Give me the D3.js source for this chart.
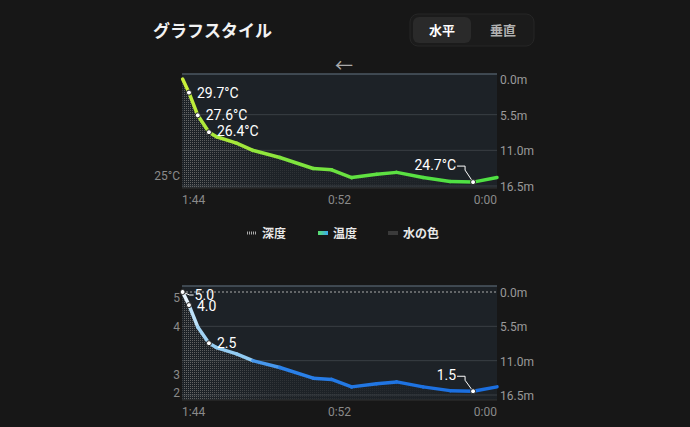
<!DOCTYPE html>
<html><head><meta charset="utf-8">
<script src="https://cdn.jsdelivr.net/npm/d3@7"></script>
<style>
body{margin:0;background:#171717;}
text{font-family:Roboto,"Noto Sans CJK JP",sans-serif;}
</style></head>
<body>
<svg id="c" width="690" height="427"></svg>
<script>
// dive profile, minutes from end of dive
const minutes = [103.8, 101.7, 98.8, 95.1, 92.6, 86.0, 80.6, 71.7, 60.7, 54.6, 48.0, 39.7, 33.1, 24.4, 15.5, 7.9, 0];
const depth   = [0.0, 2.1, 5.6, 8.2, 8.9, 9.9, 11.0, 12.1, 13.8, 14.0, 15.2, 14.7, 14.4, 15.2, 15.8, 15.9, 15.2];
const temp    = [30.2, 29.7, 27.6, 26.4, 26.2, 26.0, 25.8, 25.5, 25.3, 25.2, 25.0, 24.9, 24.9, 24.8, 24.7, 24.7, 24.7];
const vis     = [5.0, 4.0, 3.0, 2.5, 2.4, 2.35, 2.3, 2.0, 1.9, 1.8, 1.7, 1.7, 1.6, 1.6, 1.5, 1.5, 1.5];
const depthTicks = [0, 5.5, 11.0, 16.5];
const timeTicks = [104, 52, 0];
const timeLabels = ["1:44", "0:52", "0:00"];
const visTicks = [5, 4, 3, 2];

const svg = d3.select("#c");
const data = minutes.map((m, i) => ({m, d: depth[i], t: temp[i], v: vis[i]}));
const x = d3.scaleLinear().domain([104, 0]).range([182, 497]);

// header
svg.append("text").attr("x", 153).attr("y", 37).attr("fill", "#f2f2f2")
  .attr("font-size", 17).attr("font-weight", "bold").text("グラフスタイル");
svg.append("rect").attr("x", 410).attr("y", 14).attr("width", 124).attr("height", 32).attr("rx", 8)
  .attr("fill", "#1b1b1b").attr("stroke", "#262626");
svg.append("rect").attr("x", 413).attr("y", 17).attr("width", 58).attr("height", 26).attr("rx", 6).attr("fill", "#2a2a2a");
svg.append("text").attr("x", 442).attr("y", 35).attr("text-anchor", "middle").attr("fill", "#fff")
  .attr("font-size", 13).attr("font-weight", "bold").text("水平");
svg.append("text").attr("x", 503).attr("y", 35).attr("text-anchor", "middle").attr("fill", "#b0b0b0")
  .attr("font-size", 13).attr("font-weight", "bold").text("垂直");
svg.append("text").attr("x", 344).attr("y", 72).attr("text-anchor", "middle").attr("fill", "#aaa")
  .attr("font-size", 18).text("←");

const defs = svg.append("defs");
const pat = defs.append("pattern").attr("id", "hatch").attr("patternUnits", "userSpaceOnUse")
  .attr("width", 2).attr("height", 2);
pat.append("rect").attr("width", 1).attr("height", 1).attr("fill", "#6a6a6a");
const fade = defs.append("linearGradient").attr("id", "fade");
fade.append("stop").attr("offset", "0").attr("stop-color", "#fff").attr("stop-opacity", 1);
fade.append("stop").attr("offset", "0.3").attr("stop-color", "#fff").attr("stop-opacity", 0.25);
fade.append("stop").attr("offset", "1").attr("stop-color", "#fff").attr("stop-opacity", 0);
defs.append("mask").attr("id", "fm").append("rect").attr("x", 182).attr("y", 0)
  .attr("width", 315).attr("height", 427).attr("fill", "url(#fade)");

function chart(cfg) {
  const y = d3.scaleLinear().domain([0, 16.5]).range([cfg.y0, cfg.y1]);
  const g = svg.append("g");
  g.append("rect").attr("x", 182).attr("y", cfg.top).attr("width", 315).attr("height", cfg.bottom - cfg.top)
    .attr("fill", "#1d2227");
  g.append("line").attr("x1", 182).attr("x2", 497).attr("y1", cfg.top).attr("y2", cfg.top)
    .attr("stroke", "#4c5863").attr("stroke-width", 1.5);
  depthTicks.forEach((t, i) => {
    if (!(i === 0 && !cfg.dotZero)) {
      g.append("line").attr("x1", 182).attr("x2", 497).attr("y1", y(t)).attr("y2", y(t))
        .attr("stroke", i === 0 ? "#aaa" : "#3a3f44").attr("stroke-dasharray", i === 0 ? "2,2" : null);
    }
    g.append("text").attr("x", 500).attr("y", y(t) + 5).attr("fill", "#9a9a9a").attr("font-size", 12).text(t.toFixed(1) + "m");
  });
  g.append("line").attr("x1", 182).attr("x2", 497).attr("y1", cfg.bottom).attr("y2", cfg.bottom).attr("stroke", "#333");
  timeTicks.forEach((t, i) => {
    g.append("text").attr("x", x(t)).attr("y", cfg.bottom + 16)
      .attr("text-anchor", i === 0 ? "start" : i === 2 ? "end" : "middle")
      .attr("fill", "#8a8a8a").attr("font-size", 12).text(timeLabels[i]);
  });
  const area = d3.area().x(d => x(d.m)).y0(cfg.bottom).y1(d => y(d.d));
  g.append("path").datum(data).attr("d", area).attr("fill", "url(#hatch)").attr("mask", "url(#fm)");
  for (let i = 0; i < data.length - 1; i++) {
    const a = data[i], b = data[i + 1];
    g.append("line").attr("x1", x(a.m)).attr("y1", y(a.d)).attr("x2", x(b.m)).attr("y2", y(b.d))
      .attr("stroke", cfg.color((a[cfg.key] + b[cfg.key]) / 2)).attr("stroke-width", 3.5).attr("stroke-linecap", "round");
  }
  cfg.marks.forEach(mk => {
    const d = data[mk.i], px = x(d.m), py = y(d.d);
    if (mk.leader) {
      g.append("path").attr("d", mk.leader(px, py)).attr("fill", "none").attr("stroke", "#fff").attr("stroke-width", 1);
    }
    g.append("circle").attr("cx", px).attr("cy", py).attr("r", 2.5).attr("fill", "#fff").attr("stroke", "#222");
    g.append("text").attr("x", px + mk.dx).attr("y", py + mk.dy).attr("fill", "#fff")
      .attr("font-size", 14).attr("text-anchor", mk.anchor || "start").text(mk.label);
  });
  return {g, y};
}

const tColor = d3.scaleLinear().domain([30, 26, 24.7]).range(["#c8ef3a", "#a8e83a", "#4fe043"]);
const c1 = chart({top: 74, bottom: 188, y0: 79, y1: 186, key: "t", color: tColor, dotZero: false,
  marks: [
    {i: 1, label: "29.7°C", dx: 8, dy: 5},
    {i: 2, label: "27.6°C", dx: 8, dy: 5},
    {i: 3, label: "26.4°C", dx: 8, dy: 4},
    {i: 15, label: "24.7°C", dx: -17, dy: -12, anchor: "end",
      leader: (px, py) => `M${px - 16},${py - 16}H${px - 8}V${py - 12}L${px},${py}`}
  ]});
c1.g.append("text").attr("x", 180).attr("y", 180).attr("text-anchor", "end").attr("fill", "#8a8a8a")
  .attr("font-size", 12).text("25°C");

// legend
const ly = 233;
svg.append("line").attr("x1", 247).attr("x2", 257).attr("y1", ly).attr("y2", ly)
  .attr("stroke", "#aaa").attr("stroke-width", 3).attr("stroke-dasharray", "1,1");
svg.append("text").attr("x", 262).attr("y", ly + 5).attr("fill", "#e8e8e8").attr("font-size", 12).attr("font-weight", "bold").text("深度");
const lg = defs.append("linearGradient").attr("id", "lg");
lg.append("stop").attr("offset", "0").attr("stop-color", "#5be06a");
lg.append("stop").attr("offset", "1").attr("stop-color", "#39a9f0");
svg.append("rect").attr("x", 318).attr("y", ly - 2).attr("width", 10).attr("height", 4).attr("fill", "url(#lg)");
svg.append("text").attr("x", 333).attr("y", ly + 5).attr("fill", "#e8e8e8").attr("font-size", 12).attr("font-weight", "bold").text("温度");
svg.append("rect").attr("x", 388).attr("y", ly - 2).attr("width", 10).attr("height", 4).attr("fill", "#3a3a3a");
svg.append("text").attr("x", 403).attr("y", ly + 5).attr("fill", "#e8e8e8").attr("font-size", 12).attr("font-weight", "bold").text("水の色");

const vColor = d3.scaleLinear().domain([5, 4, 2.3, 2.1, 1.5]).range(["#ffffff", "#cfe9fb", "#90cbf2", "#2f86ea", "#1b6fe0"]);
const c2 = chart({top: 286, bottom: 400, y0: 292, y1: 395, key: "v", color: vColor, dotZero: true,
  marks: [
    {i: 0, label: "5.0", dx: 12, dy: 8, leader: (px, py) => `M${px},${py}L${px + 7},${py + 3}H${px + 11}`},
    {i: 1, label: "4.0", dx: 8, dy: 6},
    {i: 3, label: "2.5", dx: 8, dy: 5},
    {i: 15, label: "1.5", dx: -17, dy: -11, anchor: "end",
      leader: (px, py) => `M${px - 16},${py - 15}H${px - 8}V${py - 11}L${px},${py}`}
  ]});
const vy = d3.scaleLinear().domain([2, 3, 4, 5]).range([392, 374, 326, 297]);
visTicks.forEach(t => c2.g.append("text").attr("x", 180).attr("y", vy(t) + 5).attr("text-anchor", "end")
  .attr("fill", "#8a8a8a").attr("font-size", 12).text(t));
</script>
</body></html>
